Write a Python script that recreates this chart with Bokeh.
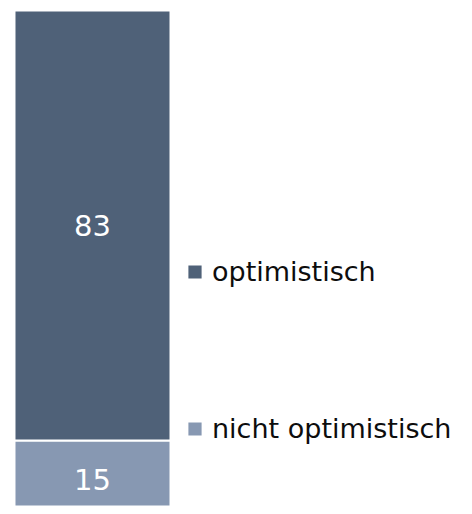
from bokeh.plotting import figure
from bokeh.models import ColumnDataSource, Legend, LegendItem, Range1d, LabelSet
from bokeh.core.properties import value
from bokeh.embed import file_html
from bokeh.resources import INLINE

# data
categories = ["Gesamt"]
series = ["nicht optimistisch", "optimistisch"]
values_nicht = [15]
values_opt = [83]
colors = ["#8798B2", "#4F6178"]

x = [0]
src = ColumnDataSource(dict(x=x, nicht=values_nicht, opt=values_opt))

p = figure(width=464, height=506, output_backend="svg", toolbar_location=None,
           x_range=Range1d(-0.5897, 2.3846), y_range=Range1d(2.26, 99.93),
           min_border=0, min_border_left=0, min_border_right=0,
           min_border_top=0, min_border_bottom=0)
p.outline_line_color = None
p.xaxis.visible = False
p.yaxis.visible = False
p.xgrid.visible = False
p.ygrid.visible = False
p.background_fill_color = "white"
p.border_fill_color = "white"

rs = p.vbar_stack(["nicht", "opt"], x="x", width=1.0, source=src, color=colors,
                  line_color="white", line_width=2)

# value labels at segment centres
src.data["nicht_mid"] = [v / 2 for v in values_nicht]
src.data["opt_mid"] = [n + o / 2 for n, o in zip(values_nicht, values_opt)]
src.data["nicht_txt"] = [str(v) for v in values_nicht]
src.data["opt_txt"] = [str(v) for v in values_opt]
for ycol, tcol in [("nicht_mid", "nicht_txt"), ("opt_mid", "opt_txt")]:
    lab = LabelSet(x="x", y=ycol, text=tcol, source=src, text_color="white",
                   text_align="center", text_baseline="middle",
                   text_font=value("DejaVu Sans"), text_font_size="29px")
    p.add_layout(lab)

items = [LegendItem(label=series[1], renderers=[rs[1]]),
         LegendItem(label=series[0], renderers=[rs[0]])]
legend = Legend(items=items, location=(185, 62), orientation="vertical",
                spacing=126, padding=0, margin=0,
                glyph_width=19, glyph_height=19, label_standoff=8,
                label_text_font="DejaVu Sans", label_text_font_size="27px",
                label_text_color="#0d0d0d", label_height=30,
                border_line_color=None, background_fill_alpha=0)
p.add_layout(legend)

open("out.html", "w").write(file_html(p, INLINE))
